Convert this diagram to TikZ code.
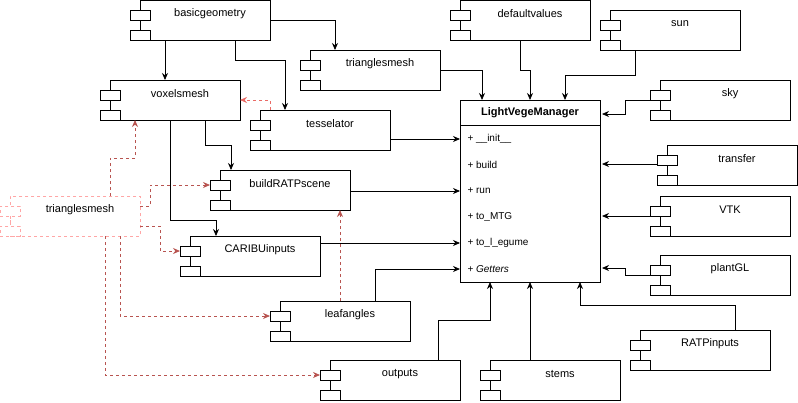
\documentclass[tikz,border=0pt]{standalone}
\usepackage{fontspec}
\setmainfont{Liberation Sans}
\usetikzlibrary{arrows.meta}
\begin{document}
\begin{tikzpicture}[x=1pt,y=-1pt,font=\fontsize{11}{13}\selectfont,
  comp/.style={draw,line width=0.8pt,fill=white,minimum width=130pt,minimum height=40pt,inner sep=0pt,anchor=north west},
  pin/.style={draw,line width=0.8pt,fill=white,minimum width=20pt,minimum height=10pt,inner sep=0pt,anchor=north west},
  dcomp/.style={comp,draw=red!35,dashed},
  dpin/.style={pin,draw=red!35,dashed},
  conn/.style={line width=0.8pt,-{Stealth[length=7pt,width=6pt]}},
  dconn/.style={line width=0.8pt,draw={rgb,255:red,184;green,84;blue,80},dashed,-{Stealth[length=7pt,width=6pt]}}]
\useasboundingbox (0,0) rectangle (798,402);
\newcommand{\comp}[5][]{%
  \node[comp,#1] (#2) at (#3,#4) {};
  \draw[line width=0.8pt,#1] (#3,#4+20) -- (#3,#4+30);
  \node[pin,#1] at (#3-10,#4+10) {};
  \node[pin,#1] at (#3-10,#4+30) {};
  \node at (#3+70,#4+14) {#5};}
\comp{bg}{140}{0}{basicgeometry}
\comp{tmtop}{310}{50}{trianglesmesh}
\comp{vox}{110}{80}{voxelsmesh}
\comp{tes}{260}{110}{tesselator}
\comp{brs}{220}{170}{buildRATPscene}
\comp{car}{190}{236}{CARIBUinputs}
\comp{leaf}{280}{301}{leafangles}
\comp{out}{330}{360}{outputs}
\comp{def}{460}{0}{defaultvalues}
\comp{sun}{610}{10}{sun}
\comp{sky}{660}{80}{sky}
\comp{tra}{667}{145}{transfer}
\comp{vtk}{660}{196}{VTK}
\comp{pgl}{660}{255}{plantGL}
\comp{ratp}{640}{330}{RATPinputs}
\comp{stems}{490}{360}{stems}
% dashed trianglesmesh
\node[dcomp] (tmd) at (10,196) {};
\draw[line width=0.8pt,draw=red!35,dashed] (10,216) -- (10,226);
\node[dpin] at (0,206) {};
\node[dpin] at (0,226) {};
\node at (80,210) {trianglesmesh};
% manager
\node[draw,line width=0.8pt,minimum width=140pt,minimum height=182pt,anchor=north west,inner sep=0pt] (lvm) at (460,100) {};
\draw[line width=0.8pt] (460,125) -- (600,125);
\node[font=\fontsize{11}{13}\selectfont\bfseries] at (530,112.5) {LightVegeManager};
\foreach \y/\t in {139/{+ \_\_init\_\_},165/{+ build},191/{+ run},217/{+ to\_MTG},243/{+ to\_l\_egume},269/{+ \textit{Getters}}}
  \node[anchor=west,font=\fontsize{10}{12}\selectfont] at (464,\y) {\t};
% connectors
\draw[conn] (bg.east |- 0,20) -| (335,50);
\draw[conn] (165,40) -- (165,80);
\draw[conn] (235,40) |- (285,60) -- (285,110);
\draw[conn] (tmtop.east |- 0,70) -| (482,100);
\draw[conn] (520,40) |- (530,70) -- (530,100);
\draw[conn] (635,50) |- (565,75) -- (565,100);
\draw[conn] (650,100) -| (625,114) -- (602,114);
\draw[conn] (tes.east |- 0,139) -- (460,139);
\draw[conn] (205,120) |- (231,145) -- (231,170);
\draw[conn] (170,120) |- (216,220) -- (216,236);
\draw[conn] (brs.east |- 0,191) -- (460,191);
\draw[conn] (car.east |- 0,243) -- (460,243);
\draw[conn] (375,301) |- (460,269);
\draw[conn] (438,360) |- (490,320) -- (490,282);
\draw[conn] (530,360) -- (530,282);
\draw[conn] (735,330) |- (580,305) -- (580,282);
\draw[conn] (657,164) -- (602,164);
\draw[conn] (650,216) -- (602,216);
\draw[conn] (650,275) -| (625,268) -- (602,268);
% dashed
\draw[dconn,draw={rgb,255:red,234;green,107;blue,102}] (270,110) |- (240,100);
\draw[dconn] (340,301) -- (340,210);
\draw[dconn] (110,196) |- (135,158) -- (135,120);
\draw[dconn] (140,206) -| (150,185) -- (210,185);
\draw[dconn] (140,226) -| (160,251) -- (180,251);
\draw[dconn] (120,236) |- (270,316);
\draw[dconn] (105,236) |- (320,375);
\end{tikzpicture}
\end{document}
